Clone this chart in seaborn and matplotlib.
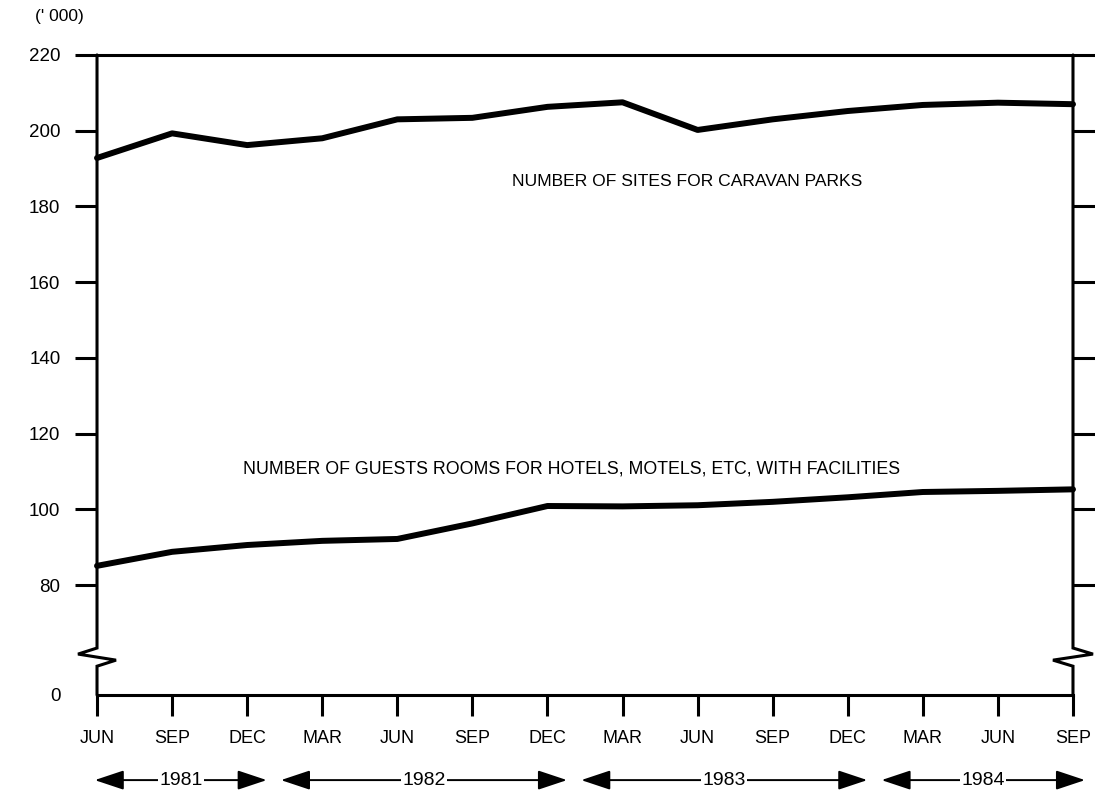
import matplotlib
matplotlib.use("Agg")
import matplotlib.pyplot as plt
import pandas as pd
import seaborn as sns

# values ('000)
months = ["JUN", "SEP", "DEC", "MAR", "JUN", "SEP", "DEC",
          "MAR", "JUN", "SEP", "DEC", "MAR", "JUN", "SEP"]
years = ["1981", "1982", "1983", "1984"]
point_year = ["1981"] * 3 + ["1982"] * 4 + ["1983"] * 4 + ["1984"] * 3
caravan_sites = [192.8, 199.3, 196.2, 198.0, 203.0, 203.4, 206.3,
                 207.5, 200.2, 203.0, 205.2, 206.8, 207.4, 207.0]
guest_rooms = [85.1, 88.8, 90.6, 91.7, 92.2, 96.3, 100.9,
               100.8, 101.1, 102.0, 103.2, 104.6, 104.9, 105.3]
y_ticks = [80, 100, 120, 140, 160, 180, 200, 220]

caravan_label = "NUMBER OF SITES FOR CARAVAN PARKS"
guest_label = "NUMBER OF GUESTS ROOMS FOR HOTELS, MOTELS, ETC, WITH FACILITIES"

df = pd.DataFrame({
    "pos": list(range(len(months))) * 2,
    "value": caravan_sites + guest_rooms,
    "series": ["caravan"] * len(months) + ["guests"] * len(months),
})

sns.set_style("white")
plt.rcParams["font.family"] = ["Liberation Sans", "DejaVu Sans"]
for key in ["text.color", "xtick.color", "ytick.color", "axes.labelcolor"]:
    plt.rcParams[key] = "black"

fig = plt.figure(figsize=(10.95, 7.92), dpi=100)
ax = fig.add_axes([0.0886, 0.1225, 0.8913, 0.8081])

sns.lineplot(data=df, x="pos", y="value", hue="series",
             palette=["black", "black"], linewidth=4.3, legend=False,
             ax=ax, clip_on=False)

zero_pos = 51  # where the "0" sits below the axis break
ax.set_xlim(0, len(months) - 1)
ax.set_ylim(zero_pos, 220)
ax.set_xlabel("")
ax.set_ylabel("")

# spines: left/right drawn by hand with the break
for side in ["left", "right"]:
    ax.spines[side].set_visible(False)
for side in ["top", "bottom"]:
    ax.spines[side].set_visible(True)
    ax.spines[side].set_linewidth(2.2)
    ax.spines[side].set_color("black")

ytr = ax.get_yaxis_transform()
w = 976.0
left_axis_x = [0, 0, -19 / w, 19 / w, 0, 0]
right_axis_x = [1, 1, 1 + 20 / w, 1 - 20 / w, 1, 1]
brk_y = [220, 63.4, 61.8, 60.2, 58.6, zero_pos]
ax.plot(left_axis_x, brk_y, color="black", lw=2.2, transform=ytr,
        clip_on=False, solid_joinstyle="miter")
ax.plot(right_axis_x, brk_y, color="black", lw=2.2, transform=ytr,
        clip_on=False, solid_joinstyle="miter")

ax.set_yticks(y_ticks)
ax.set_yticklabels([str(v) for v in y_ticks])
ax.set_yticks([zero_pos], labels=["0"], minor=True)
ax.tick_params(axis="y", which="major", left=True, right=True, direction="out",
               length=15.8, width=2.2, pad=10.5, labelsize=13.5, colors="black")
ax.tick_params(axis="y", which="minor", left=True, right=False, length=0,
               pad=26, labelsize=13.5, colors="black")

ax.set_xticks(range(len(months)))
ax.set_xticklabels(months)
ax.tick_params(axis="x", bottom=True, direction="out", length=15,
               width=2.2, pad=10, labelsize=13, colors="black")

ax.grid(False)

ax.text(5.53, 186.7, caravan_label, fontsize=12.6, va="center", ha="left")
ax.text(1.94, 110.6, guest_label, fontsize=12.8, va="center", ha="left")

fig.text(0.032, 1 - 17 / 792, "(' 000)", fontsize=12.5, va="center", ha="left")

# year arrows below the month labels
xtr = ax.get_xaxis_transform()
arrow_y = -0.133
last = len(months) - 1
for yr in years:
    idx = [i for i, p in enumerate(point_year) if p == yr]
    start = max(idx[0] - 0.55, -0.03)
    end = min(idx[-1] + 0.26, last + 0.16)
    mid = (start + end) / 2
    ax.annotate("", xy=(end, arrow_y), xytext=(start, arrow_y),
                xycoords=xtr, textcoords=xtr, annotation_clip=False,
                arrowprops=dict(arrowstyle="<|-|>,head_length=0.9,head_width=0.3",
                                mutation_scale=20, lw=1.4, color="black",
                                shrinkA=0, shrinkB=0))
    ax.text(mid, arrow_y, yr, transform=xtr, fontsize=14, ha="center",
            va="center", clip_on=False,
            bbox=dict(facecolor="white", edgecolor="none", pad=1.0))

fig.savefig("out.png", dpi=100, facecolor="white")
